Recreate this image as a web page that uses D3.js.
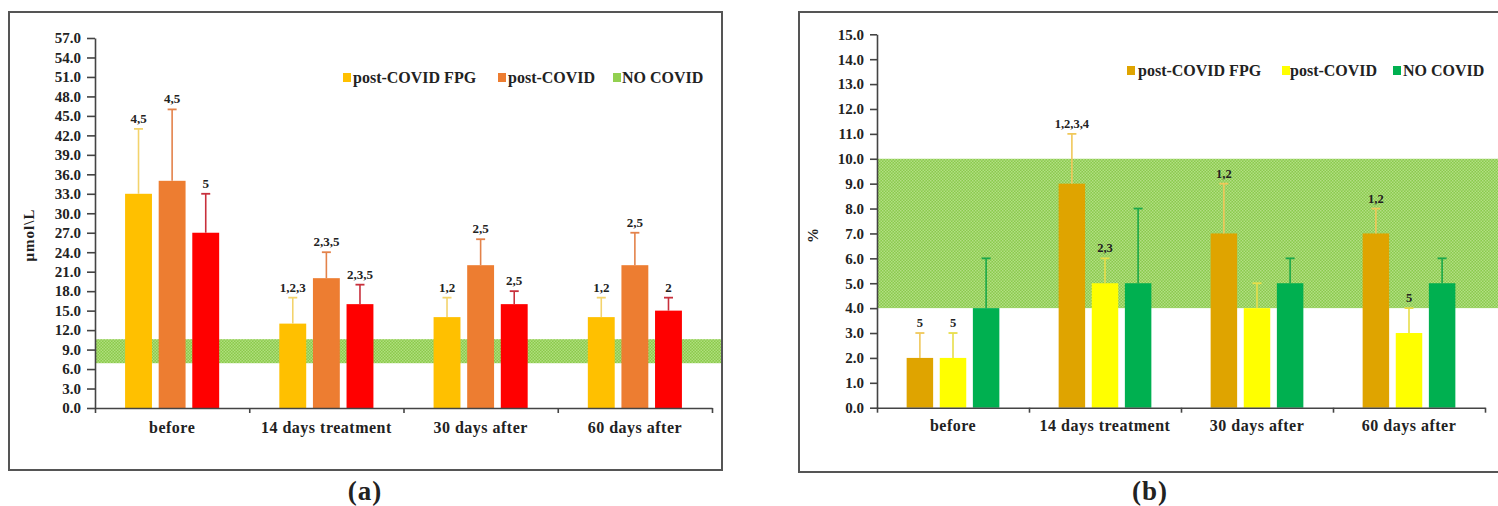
<!DOCTYPE html>
<html>
<head>
<meta charset="utf-8">
<script src="https://cdn.jsdelivr.net/npm/d3@7"></script>
<style>
  html, body { margin: 0; padding: 0; background: #ffffff; }
  svg { display: block; }
  text { font-family: "Liberation Serif", "Times New Roman", serif; fill: #222; }
</style>
</head>
<body>
<svg id="chart" width="1498" height="506"></svg>
<script>
// ---------------- DATA ----------------
const categories = ["before", "14 days treatment", "30 days after", "60 days after"];

// Panel (a): µmol\L
const seriesA = ["post-COVID FPG", "post-COVID", "NO COVID"];
const aFpgMean = [33, 13, 14, 14];
const aFpgUpper = [43, 17, 17, 17];
const aPostMean = [35, 20, 22, 22];
const aPostUpper = [46, 24, 26, 27];
const aNoMean = [27, 16, 16, 15];
const aNoUpper = [33, 19, 18, 17];
const aFpgLabels = ["4,5", "1,2,3", "1,2", "1,2"];
const aPostLabels = ["4,5", "2,3,5", "2,5", "2,5"];
const aNoLabels = ["5", "2,3,5", "2,5", "2"];
const aTicks = [0, 3, 6, 9, 12, 15, 18, 21, 24, 27, 30, 33, 36, 39, 42, 45, 48, 51, 54, 57];
const aRefBand = [6.9, 10.6];

// Panel (b): %
const seriesB = ["post-COVID FPG", "post-COVID", "NO COVID"];
const bFpgMean = [2, 9, 7, 7];
const bFpgUpper = [3, 11, 9, 8];
const bPostMean = [2, 5, 4, 3];
const bPostUpper = [3, 6, 5, 4];
const bNoMean = [4, 5, 5, 5];
const bNoUpper = [6, 8, 6, 6];
const bFpgLabels = ["5", "1,2,3,4", "1,2", "1,2"];
const bPostLabels = ["5", "2,3", "", "5"];
const bNoLabels = ["", "", "", ""];
const bTicks = [0, 1, 2, 3, 4, 5, 6, 7, 8, 9, 10, 11, 12, 13, 14, 15];
const bRefBand = [4, 10];

// ---------------- DRAW ----------------
const svg = d3.select("#chart");
const defs = svg.append("defs");

function makePattern(id, base, dot) {
  const p = defs.append("pattern").attr("id", id)
    .attr("patternUnits", "userSpaceOnUse").attr("width", 3).attr("height", 3);
  p.append("rect").attr("width", 3).attr("height", 3).attr("fill", base);
  p.append("rect").attr("width", 1.5).attr("height", 1.5).attr("fill", dot);
  p.append("rect").attr("x", 1.5).attr("y", 1.5).attr("width", 1.5).attr("height", 1.5).attr("fill", dot);
}
makePattern("dotsA", "#8aca4a", "#b0de7e");
makePattern("dotsB", "#8aca4c", "#b2df84");

function drawPanel(cfg) {
  const g = svg.append("g");
  // frame
  g.append("rect").attr("x", cfg.frame[0]).attr("y", cfg.frame[1])
    .attr("width", cfg.frame[2]).attr("height", cfg.frame[3])
    .attr("fill", "none").attr("stroke", "#555").attr("stroke-width", 2);

  const y = d3.scaleLinear().domain([0, cfg.yMax]).range([cfg.y0, cfg.yTop]);
  const x = d3.scaleBand().domain(categories).range([cfg.x0, cfg.x1])
    .paddingInner(0.39).paddingOuter(0.195);
  const xs = d3.scaleBand().domain(cfg.series.map((d, i) => i)).range([0, x.bandwidth()])
    .paddingInner(0.2).paddingOuter(0);

  // reference band
  g.append("rect").attr("x", cfg.x0).attr("width", cfg.bandRight - cfg.x0)
    .attr("y", y(cfg.band[1])).attr("height", y(cfg.band[0]) - y(cfg.band[1]))
    .attr("fill", "url(#" + cfg.pattern + ")");

  // bars, error bars, labels
  cfg.groups.forEach((s, si) => {
    const rows = categories.map((c, ci) => ({ c, m: s.mean[ci], u: s.upper[ci], l: s.labels[ci] }));
    const gx = d => x(d.c) + xs(si);
    const cx = d => x(d.c) + xs(si) + xs.bandwidth() / 2;
    g.selectAll(null).data(rows).join("rect")
      .attr("x", gx).attr("width", xs.bandwidth())
      .attr("y", d => y(d.m)).attr("height", d => y(0) - y(d.m))
      .attr("fill", s.color);
    g.selectAll(null).data(rows).join("line")
      .attr("x1", cx).attr("x2", cx).attr("y1", d => y(d.m)).attr("y2", d => y(d.u))
      .attr("stroke", s.err).attr("stroke-width", 1.6);
    g.selectAll(null).data(rows).join("line")
      .attr("x1", d => cx(d) - 4.5).attr("x2", d => cx(d) + 4.5)
      .attr("y1", d => y(d.u)).attr("y2", d => y(d.u))
      .attr("stroke", s.err).attr("stroke-width", 1.8);
    g.selectAll(null).data(rows.filter(d => d.l)).join("text")
      .attr("x", cx).attr("y", d => y(d.u) - 6)
      .attr("text-anchor", "middle")
      .attr("font-size", cfg.labelSize).attr("font-weight", cfg.labelWeight)
      .text(d => d.l);
  });

  // y axis
  const ya = g.append("g").attr("transform", `translate(${cfg.x0},0)`)
    .call(d3.axisLeft(y).tickValues(cfg.ticks).tickFormat(d3.format(".1f"))
      .tickSize(cfg.tickSize).tickSizeOuter(0).tickPadding(6));
  ya.selectAll("path, line").attr("stroke", "#444").attr("stroke-width", 1.6);
  ya.selectAll("text").attr("font-size", 15).attr("font-weight", "bold")
    .attr("fill", "#222").style("font-family", "'Liberation Serif', serif");

  // x axis
  const xl = d3.scaleLinear().domain([0, categories.length]).range([cfg.x0, cfg.x1]);
  const xa = g.append("g").attr("transform", `translate(0,${cfg.y0})`)
    .call(d3.axisBottom(xl).tickValues(d3.range(0, categories.length + 1))
      .tickFormat("").tickSize(5).tickSizeOuter(0));
  xa.selectAll("path, line").attr("stroke", "#444").attr("stroke-width", 1.6);

  g.selectAll(null).data(categories).join("text")
    .attr("x", d => x(d) + x.bandwidth() / 2).attr("y", cfg.catY)
    .attr("text-anchor", "middle").attr("font-size", 16).attr("font-weight", "bold")
    .attr("letter-spacing", 0.5)
    .text(d => d);

  // y label
  g.append("text")
    .attr("transform", `translate(${cfg.yLabelPos[0]},${cfg.yLabelPos[1]}) rotate(-90)`)
    .attr("text-anchor", "middle").attr("font-size", 15).attr("font-weight", "bold")
    .attr("letter-spacing", 1)
    .text(cfg.yLabel);

  // legend
  cfg.groups.forEach((s, si) => {
    g.append("rect").attr("x", cfg.legendSq[si]).attr("y", cfg.legendY - 5)
      .attr("width", 8).attr("height", 9).attr("fill", s.legend);
    g.append("text").attr("x", cfg.legendTx[si]).attr("y", cfg.legendY + 5)
      .attr("font-size", 16).attr("font-weight", "bold")
      .text(cfg.series[si]);
  });

  // caption
  g.append("text").attr("x", cfg.caption[0]).attr("y", cfg.caption[1])
    .attr("text-anchor", "middle").attr("font-size", 27).attr("font-weight", "bold")
    .attr("letter-spacing", 1)
    .text(cfg.captionText);
}

drawPanel({
  frame: [9, 12, 713, 458],
  x0: 95, x1: 712, y0: 408, yTop: 38, yMax: 57,
  bandRight: 721, band: aRefBand, pattern: "dotsA",
  series: seriesA, ticks: aTicks, tickSize: 8,
  groups: [
    { mean: aFpgMean, upper: aFpgUpper, labels: aFpgLabels, color: "#ffc000", err: "#f3d36c", legend: "#ffc000" },
    { mean: aPostMean, upper: aPostUpper, labels: aPostLabels, color: "#ed7d31", err: "#e3824a", legend: "#ed7d31" },
    { mean: aNoMean, upper: aNoUpper, labels: aNoLabels, color: "#ff0000", err: "#c8303c", legend: "#92d050" }
  ],
  labelSize: 13, labelWeight: "bold",
  catY: 433, yLabel: "μmol\\L", yLabelPos: [34, 235],
  legendSq: [343, 498, 613], legendTx: [353, 508, 622], legendY: 78,
  caption: [365, 500], captionText: "(a)"
});

drawPanel({
  frame: [799, 12, 720, 460],
  x0: 877, x1: 1485, y0: 407.7, yTop: 34.3, yMax: 15,
  bandRight: 1498, band: bRefBand, pattern: "dotsB",
  series: seriesB, ticks: bTicks, tickSize: 7,
  groups: [
    { mean: bFpgMean, upper: bFpgUpper, labels: bFpgLabels, color: "#dfa400", err: "#f0c85a", legend: "#dfa400" },
    { mean: bPostMean, upper: bPostUpper, labels: bPostLabels, color: "#ffff00", err: "#e8de4a", legend: "#ffff00" },
    { mean: bNoMean, upper: bNoUpper, labels: bNoLabels, color: "#00b050", err: "#1aa84a", legend: "#00b050" }
  ],
  labelSize: 12.5, labelWeight: "bold",
  catY: 431, yLabel: "%", yLabelPos: [818, 235],
  legendSq: [1127, 1282, 1393], legendTx: [1138, 1290, 1403], legendY: 71,
  caption: [1150, 500], captionText: "(b)"
});
</script>
</body>
</html>
